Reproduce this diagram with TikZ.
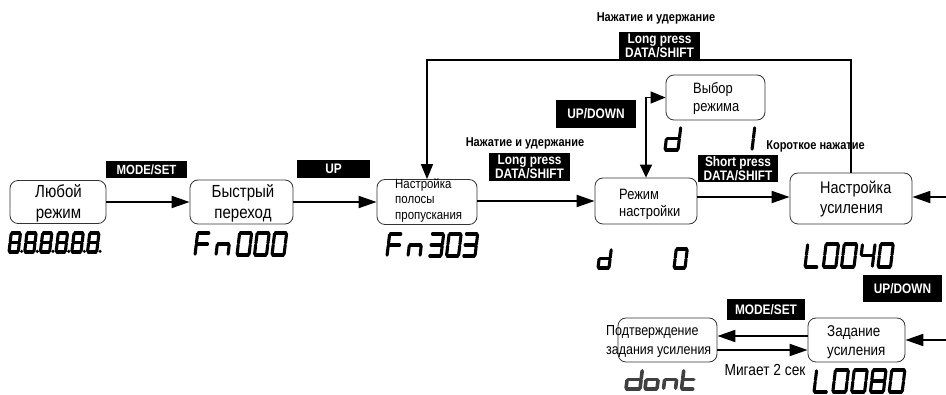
\documentclass[tikz,border=0pt]{standalone}
\usepackage{fontspec}
\setmainfont[FakeStretch=0.86]{Liberation Sans}
\usetikzlibrary{arrows.meta,calc}

% seven-segment helpers
\def\sk{0.12}\def\sg{0.8}
\def\segxa{\draw[segline] ({\sg+\sk*\sh},{-\sh}) -- ({\sw-\sg+\sk*\sh},{-\sh});}
\def\segxb{\draw[segline] ({\sw+\sk*(\sh-\sg)},{-(\sh-\sg)}) -- ({\sw+\sk*(\sh/2+\sg)},{-(\sh/2+\sg)});}
\def\segxc{\draw[segline] ({\sw+\sk*(\sh/2-\sg)},{-(\sh/2-\sg)}) -- ({\sw+\sk*\sg},{-\sg});}
\def\segxd{\draw[segline] ({\sg},0) -- ({\sw-\sg},0);}
\def\segxe{\draw[segline] ({\sk*\sg},{-\sg}) -- ({\sk*(\sh/2-\sg)},{-(\sh/2-\sg)});}
\def\segxf{\draw[segline] ({\sk*(\sh/2+\sg)},{-(\sh/2+\sg)}) -- ({\sk*(\sh-\sg)},{-(\sh-\sg)});}
\def\segxg{\draw[segline] ({\sg+\sk*\sh/2},{-\sh/2}) -- ({\sw-\sg+\sk*\sh/2},{-\sh/2});}
\def\segxp{\fill[black] ({\sw+3.4},{-0.6}) circle (1.7pt);}
\newcommand\sdchar[5]{%
  \begingroup\def\sw{#3}\def\sh{#4}%
  \begin{scope}[shift={({#1},{#2})}]
    \foreach \s in {#5}{\csname segx\s\endcsname}
  \end{scope}\endgroup}

\begin{document}
\begin{tikzpicture}[x=1pt,y=-1pt,
  rbox/.style={draw=black!80, line width=0.8pt, rounded corners=8pt, inner sep=0pt},
  btxt/.style={inner sep=0pt},
  lbl/.style={fill=black, text=white, font=\bfseries\fontsize{13.8}{14}\selectfont, align=center, inner sep=0pt},
  hdr/.style={font=\bfseries\fontsize{12.8}{14}\selectfont, inner sep=0pt},
  segline/.style={line width=3.1pt, line cap=round, line join=round, draw=black},
  conn/.style={line width=2pt, -{Triangle[length=18pt,width=12pt]}},
  loopconn/.style={line width=1.6pt, -{Triangle[length=15pt,width=12pt]}},
  selconn/.style={line width=1.6pt, {Triangle[length=13pt,width=12pt]}-{Triangle[length=15pt,width=12pt]}}]
\useasboundingbox (0,0) rectangle (946,395);

% boxes
\node[rbox, minimum width=96pt, minimum height=43pt] (n1) at (58,202) {};
\node[rbox, minimum width=103pt, minimum height=44pt] (n2) at (241.5,202) {};
\node[rbox, minimum width=100pt, minimum height=45pt] (n3) at (427,202) {};
\node[rbox, minimum width=102pt, minimum height=46pt] (n4) at (646,201) {};
\node[rbox, minimum width=99pt, minimum height=45pt] (n5) at (715.5,97.5) {};
\node[rbox, minimum width=122pt, minimum height=51pt] (n6) at (851,198.5) {};
\node[rbox, minimum width=97pt, minimum height=44pt] (n7) at (856.5,340) {};
\node[rbox, minimum width=99pt, minimum height=44pt] (n8) at (667.5,340) {};

% box texts
\node[btxt, align=center, font=\fontsize{17.5}{21}\selectfont] (n1t) at (58.5,203) {Любой\\режим};
\node[btxt, align=center, font=\fontsize{17.5}{21}\selectfont] (n2t) at (243,203) {Быстрый\\переход};
\node[btxt, align=left, anchor=west, font=\fontsize{13.3}{15.5}\selectfont] (n3t) at (395,200) {Настройка\\полосы\\пропускания};
\node[btxt, align=left, anchor=west, font=\fontsize{15}{17}\selectfont] (n4t) at (619,204) {Режим\\настройки};
\node[btxt, align=left, anchor=west, font=\fontsize{15}{18}\selectfont] (n5t) at (693,99) {Выбор\\режима};
\node[btxt, align=left, anchor=west, font=\fontsize{16.8}{20}\selectfont] (n6t) at (820,199) {Настройка\\усиления};
\node[btxt, align=left, anchor=west, font=\fontsize{15.6}{19}\selectfont] (n7t) at (827,342) {Задание\\усиления};
\node[btxt, align=left, anchor=west, font=\fontsize{14.5}{19}\selectfont] (n8t) at (606,342) {Подтверждение\\задания усиления};

% black key labels
\node[lbl, font=\bfseries\fontsize{13.3}{14}\selectfont, minimum width=81pt, minimum height=17pt] (l1) at (146.5,169.5) {MODE/SET};
\node[lbl, minimum width=73pt, minimum height=18pt] (l2) at (333.5,169) {UP};
\node[lbl, minimum width=81pt, minimum height=28pt] (l3) at (529.5,167) {Long press\\DATA/SHIFT};
\node[lbl, minimum width=80pt, minimum height=28pt] (l4) at (596,114) {UP/DOWN};
\node[lbl, minimum width=80pt, minimum height=27pt] (l5) at (738,168.5) {Short press\\DATA/SHIFT};
\node[lbl, minimum width=81pt, minimum height=28pt] (l6) at (659.5,46) {Long press\\DATA/SHIFT};
\node[lbl, minimum width=79pt, minimum height=27pt] (l7) at (902.5,288.5) {UP/DOWN};
\node[lbl, minimum width=78pt, minimum height=21pt] (l8) at (766,309.5) {MODE/SET};

% plain texts
\node[hdr] (t1) at (656,18) {Нажатие и удержание};
\node[hdr] (t2) at (525,143) {Нажатие и удержание};
\node[hdr] (t3) at (815.5,146) {Короткое нажатие};
\node[btxt, font=\fontsize{16}{18}\selectfont] (t4) at (765,370) {Мигает 2 сек};

% connectors
\coordinate (yA) at (740,197);
\coordinate (rA) at (946,197);
\coordinate (rB) at (946,340);
\coordinate (yB) at (760,336);
\coordinate (yC) at (760,350);
\coordinate (yT) at (640,60);
\draw[conn] (n1.east) -- (n2.west);
\draw[conn] (n2.east) -- (n3.west);
\draw[conn] (n3.east |- n4.west) -- (n4.west);
\draw[conn] (n4.east |- yA) -- (n6.west |- yA);
\draw[conn] (rA) -- (n6.east |- rA);
\draw[conn] (rB) -- (n7.east);
\draw[conn] (n7.west |- yB) -- (n8.east |- yB);
\draw[conn] (n8.east |- yC) -- (n7.west |- yC);
\draw[loopconn] (n6.north) -- (n6.north |- yT) -- (n3.north |- yT) -- (n3.north);
\draw[selconn] (n4.north) |- (n5.west);

% seven-segment displays
\foreach \i in {0,...,5} {\sdchar{9+15.7*\i}{252}{9.2}{19}{a,b,c,d,e,f,g,p}}
% Fn000
\sdchar{195}{255}{12}{22}{a,e,f,g}
\sdchar{216}{255}{12}{22}{c,e,g}
\sdchar{237}{255}{12}{22}{a,b,c,d,e,f}
\sdchar{254.5}{255}{12}{22}{a,b,c,d,e,f}
\sdchar{272}{255}{12}{22}{a,b,c,d,e,f}
% Fn303
\sdchar{387}{256}{12}{22}{a,e,f,g}
\sdchar{408}{256}{12}{22}{c,e,g}
\sdchar{429}{256}{12}{22}{a,b,c,d,g}
\sdchar{446.5}{256}{12}{22}{a,b,c,d,e,f}
\sdchar{463}{256}{12}{22}{a,b,c,d,g}
% d 0
\sdchar{598}{268}{11}{19}{b,c,d,e,g}
\sdchar{674}{268}{11}{19}{a,b,c,d,e,f}
% d 1
\sdchar{665}{150}{13}{23}{b,c,d,e,g}
\sdchar{739}{150}{13}{23}{b,c}
% L0040
\sdchar{805}{267}{12.5}{23}{d,e,f}
\sdchar{823.3}{267}{12.5}{23}{a,b,c,d,e,f}
\sdchar{841.5}{267}{12.5}{23}{a,b,c,d,e,f}
\sdchar{859.8}{267}{12.5}{23}{b,c,f,g}
\sdchar{878}{267}{12.5}{23}{a,b,c,d,e,f}
% L0080
\sdchar{814}{392}{13}{22}{d,e,f}
\sdchar{832.8}{392}{13}{22}{a,b,c,d,e,f}
\sdchar{851.6}{392}{13}{22}{a,b,c,d,e,f}
\sdchar{870.4}{392}{13}{22}{a,b,c,d,e,f,g}
\sdchar{889.2}{392}{13}{22}{a,b,c,d,e,f}
% dont (blinking)
\begin{scope}[segline/.style={line width=3.6pt, line cap=round, line join=round, draw=black!75}]
\sdchar{626}{389}{14}{19}{b,c,d,e,g}
\sdchar{645}{389}{12}{19}{c,d,e,g}
\sdchar{663.5}{389}{12}{19}{c,e,g}
\sdchar{681.5}{389}{12}{19}{d,e,f,g}
\end{scope}
\end{tikzpicture}
\end{document}
